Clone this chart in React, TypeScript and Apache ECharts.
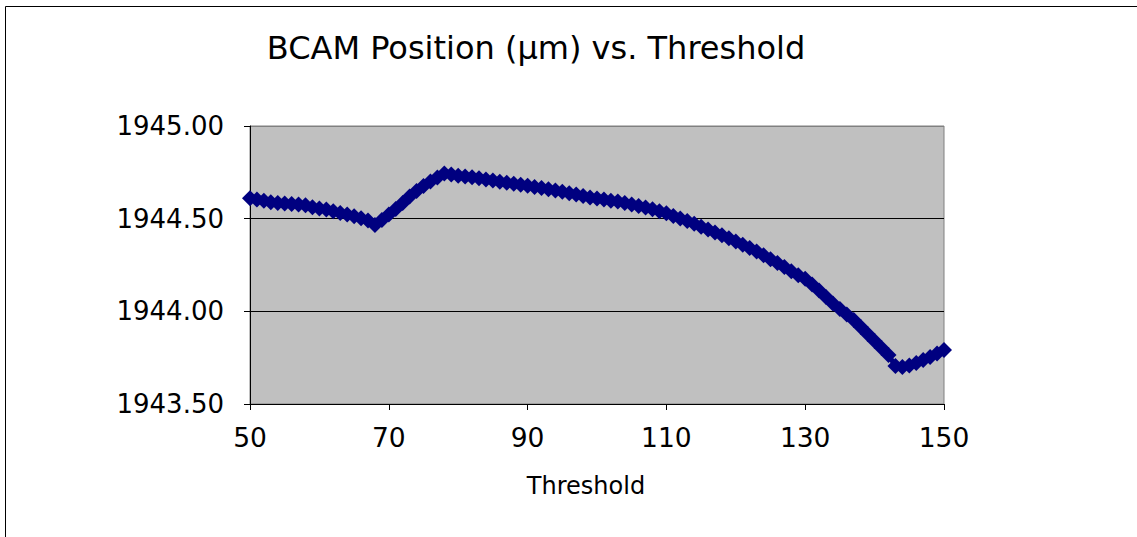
import React, { useEffect, useRef } from "react";
import * as echarts from "echarts";

const thresholds: number[] = [
  50, 51, 52, 53, 54, 55, 56, 57, 58, 59, 60, 61, 62, 63, 64, 65, 66, 67, 68, 69,
  70, 71, 72, 73, 74, 75, 76, 77, 78, 79, 80, 81, 82, 83, 84, 85, 86, 87, 88, 89,
  90, 91, 92, 93, 94, 95, 96, 97, 98, 99, 100, 101, 102, 103, 104, 105, 106, 107, 108, 109,
  110, 111, 112, 113, 114, 115, 116, 117, 118, 119, 120, 121, 122, 123, 124, 125, 126, 127, 128, 129,
  130, 131, 132, 133, 134, 135, 136, 137, 138, 139, 140, 141, 142, 143, 144, 145, 146, 147, 148, 149, 150,
];

const positions: number[] = [
  1944.610, 1944.603, 1944.596, 1944.588, 1944.585, 1944.582, 1944.579, 1944.576, 1944.573, 1944.562,
  1944.555, 1944.549, 1944.540, 1944.531, 1944.523, 1944.513, 1944.502, 1944.490, 1944.466, 1944.493,
  1944.522, 1944.552, 1944.585, 1944.620, 1944.649, 1944.676, 1944.700, 1944.722, 1944.744, 1944.738,
  1944.731, 1944.728, 1944.723, 1944.718, 1944.712, 1944.706, 1944.699, 1944.694, 1944.688, 1944.683,
  1944.677, 1944.671, 1944.665, 1944.659, 1944.652, 1944.645, 1944.637, 1944.630, 1944.622, 1944.614,
  1944.609, 1944.603, 1944.597, 1944.593, 1944.585, 1944.576, 1944.568, 1944.560, 1944.551, 1944.540,
  1944.529, 1944.514, 1944.501, 1944.487, 1944.472, 1944.457, 1944.441, 1944.426, 1944.410, 1944.394,
  1944.377, 1944.359, 1944.342, 1944.323, 1944.302, 1944.281, 1944.261, 1944.239, 1944.216, 1944.195,
  1944.176, 1944.145, 1944.113, 1944.078, 1944.042, 1944.013, 1943.983, 1943.953, 1943.915, 1943.878,
  1943.840, 1943.802, 1943.764, 1943.705, 1943.700, 1943.708, 1943.721, 1943.737, 1943.754, 1943.772,
  1943.791,
];

const xTicks: number[] = [50, 70, 90, 110, 130, 150];
const yTicks: number[] = [1943.5, 1944.0, 1944.5, 1945.0];

const titleText = "BCAM Position (µm) vs. Threshold";
const xAxisTitle = "Threshold";

const FONT = "DejaVu Sans";

export default function App() {
  const ref = useRef<HTMLDivElement>(null);

  useEffect(() => {
    if (!ref.current) return;
    const chart = echarts.init(ref.current, undefined, { renderer: "svg" });
    const data = thresholds.map((t, i) => [t, positions[i]]);
    chart.setOption({
      animation: false,
      backgroundColor: "#ffffff",
      title: {
        text: titleText,
        left: 531,
        top: 27,
        textAlign: "center",
        textStyle: { fontFamily: FONT, fontSize: 32, fontWeight: "normal", color: "#000" },
      },
      graphic: [
        {
          type: "rect",
          shape: { x: 5.5, y: 6.5, width: 1200, height: 600 },
          style: { fill: "none", stroke: "#000", lineWidth: 1 },
          z: -10,
          silent: true,
        },
      ],
      grid: {
        left: 250,
        top: 126,
        width: 694,
        height: 278,
        show: true,
        backgroundColor: "#C0C0C0",
        borderColor: "#808080",
        borderWidth: 1,
      },
      xAxis: {
        type: "value",
        min: 50,
        max: 150,
        name: xAxisTitle,
        nameLocation: "middle",
        nameGap: 70,
        nameTextStyle: { fontFamily: FONT, fontSize: 24, color: "#000", padding: [0, 22, 0, 0] },
        axisLine: { show: true, lineStyle: { color: "#000", width: 1 } },
        axisTick: { show: true, length: 6, lineStyle: { color: "#000" }, customValues: xTicks },
        axisLabel: {
          fontFamily: FONT,
          fontSize: 26.5,
          color: "#000",
          margin: 20,
          customValues: xTicks,
        },
        splitLine: { show: false },
      },
      yAxis: {
        type: "value",
        min: 1943.5,
        max: 1945.0,
        interval: 0.5,
        axisLine: { show: true, lineStyle: { color: "#000", width: 1 } },
        axisTick: { show: true, length: 6, lineStyle: { color: "#000" } },
        axisLabel: {
          fontFamily: FONT,
          fontSize: 26,
          color: "#000",
          margin: 26,
          formatter: (v: number) => v.toFixed(2),
          customValues: yTicks,
        },
        splitLine: {
          show: true,
          lineStyle: { color: ["#000", "#000", "#000", "#808080"], width: 1 },
        },
      },
      series: [
        {
          type: "line",
          data,
          symbol: "diamond",
          symbolSize: 16,
          itemStyle: { color: "#000080" },
          lineStyle: { color: "#000080", width: 5 },
          clip: false,
        },
      ],
    });
    return () => chart.dispose();
  }, []);

  return (
    <div
      ref={ref}
      style={{ position: "fixed", left: 0, top: 0, width: 1137, height: 537 }}
    />
  );
}
